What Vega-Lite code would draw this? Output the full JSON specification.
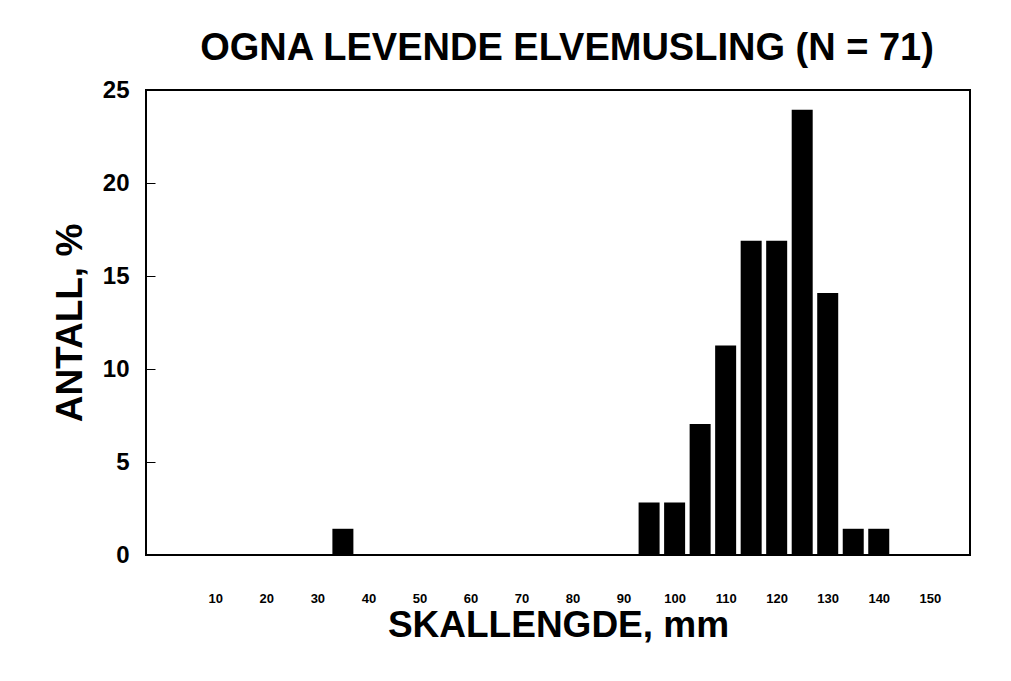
{
  "$schema": "https://vega.github.io/schema/vega-lite/v6.json",
  "autosize": {"type": "none"},
  "padding": {"left": 146, "top": 90, "right": 41, "bottom": 126},
  "width": 824,
  "height": 465,
  "background": "white",
  "title": {
    "text": "OGNA LEVENDE ELVEMUSLING (N = 71)",
    "font": "Liberation Sans",
    "fontSize": 38,
    "fontWeight": "bold",
    "color": "black",
    "offset": 10,
    "dx": 9
  },
  "data": {
    "values": [
      {"len": 35, "pct": 1.41},
      {"len": 95, "pct": 2.82},
      {"len": 100, "pct": 2.82},
      {"len": 105, "pct": 7.04},
      {"len": 110, "pct": 11.27},
      {"len": 115, "pct": 16.9},
      {"len": 120, "pct": 16.9},
      {"len": 125, "pct": 23.94},
      {"len": 130, "pct": 14.08},
      {"len": 135, "pct": 1.41},
      {"len": 140, "pct": 1.41}
    ]
  },
  "mark": {"type": "bar", "color": "black", "size": 21},
  "encoding": {
    "x": {
      "field": "len",
      "type": "quantitative",
      "scale": {"domain": [-2.6, 156.9], "nice": false, "zero": false},
      "axis": {
        "title": "SKALLENGDE, mm",
        "values": [10, 20, 30, 40, 50, 60, 70, 80, 90, 100, 110, 120, 130, 140, 150],
        "ticks": false,
        "domain": false,
        "grid": false,
        "labelPadding": 37,
        "labelFont": "Liberation Sans",
        "labelFontSize": 13,
        "labelFontWeight": "bold",
        "labelColor": "black",
        "labelFlush": false,
        "titleFont": "Liberation Sans",
        "titleFontSize": 37,
        "titleFontWeight": "bold",
        "titleColor": "black",
        "titlePadding": 2
      }
    },
    "y": {
      "field": "pct",
      "type": "quantitative",
      "scale": {"domain": [0, 25], "nice": false},
      "axis": {
        "title": "ANTALL, %",
        "values": [0, 5, 10, 15, 20, 25],
        "ticks": false,
        "domain": false,
        "grid": true,
        "gridColor": "black",
        "gridWidth": 1,
        "gridOpacity": 1,
        "gridDash": [9, 3000],
        "labelPadding": 17,
        "labelFont": "Liberation Sans",
        "labelFontSize": 24,
        "labelFontWeight": "bold",
        "labelColor": "black",
        "titleFont": "Liberation Sans",
        "titleFontSize": 37,
        "titleFontWeight": "bold",
        "titleColor": "black",
        "titlePadding": 13
      }
    }
  },
  "config": {
    "view": {"stroke": "black", "strokeWidth": 2}
  }
}
